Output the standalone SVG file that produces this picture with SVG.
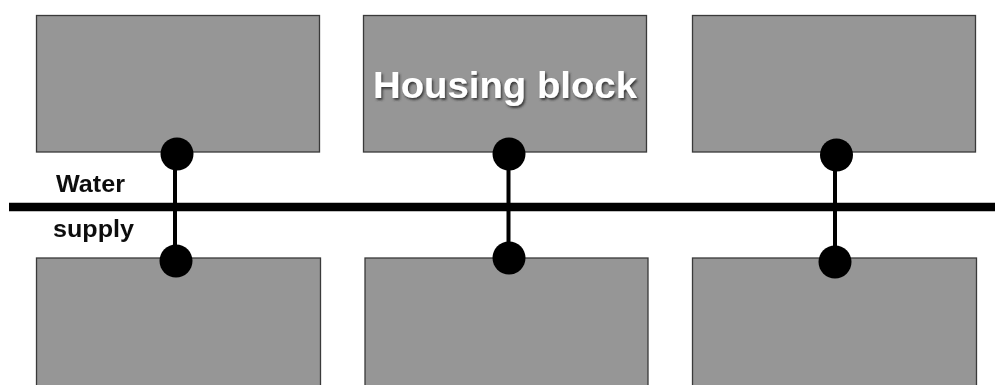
<svg xmlns="http://www.w3.org/2000/svg" width="995" height="385" viewBox="0 0 995 385">
<defs>
<filter id="shadow" x="-5%" y="-20%" width="110%" height="140%"><feGaussianBlur stdDeviation="0.4" result="s"/><feDropShadow in="s" dx="1.500" dy="2" stdDeviation="0.800" flood-color="#333" flood-opacity="0.9"/></filter>
<filter id="soft" x="-5%" y="-20%" width="110%" height="140%"><feGaussianBlur stdDeviation="0.350"/></filter>
</defs>
<style>
.b{fill:#969696;stroke:#3a3a3a;stroke-width:1.300}
.d{fill:#000}
.c{stroke:#000;fill:none}
.l{font-family:"Liberation Sans",Arial,sans-serif;font-weight:bold;font-size:23px;fill:#111;filter:url(#soft)}
.h{font-family:"Liberation Sans",Arial,sans-serif;font-weight:bold;font-size:36px;fill:#fff;filter:url(#shadow)}
</style>
<rect width="995" height="385" fill="#fff"/>
<g id="block-top-left"><rect class="b" x="36.500" y="15.500" width="283" height="136.500"/></g>
<g id="block-top-middle"><rect class="b" x="363.500" y="15.500" width="283" height="136.500"/>
<text class="h" x="373" y="98" textLength="264" lengthAdjust="spacingAndGlyphs">Housing block</text></g>
<g id="block-top-right"><rect class="b" x="692.500" y="15.500" width="283" height="136.500"/></g>
<g id="block-bottom-left"><rect class="b" x="36.500" y="258" width="284" height="128"/></g>
<g id="block-bottom-middle"><rect class="b" x="365" y="258" width="283" height="128"/></g>
<g id="block-bottom-right"><rect class="b" x="692.500" y="258" width="284" height="128"/></g>
<g id="connectors">
<path class="c" stroke-width="8.500" d="M9 207H995"/>
<path class="c" stroke-width="4" d="M175 154V261M508.500 154V258M835 155V262"/>
</g>
<g id="joints">
<circle class="d" cx="177" cy="154" r="16.500"/><circle class="d" cx="509" cy="154" r="16.500"/><circle class="d" cx="836.500" cy="155" r="16.500"/>
<circle class="d" cx="176" cy="261" r="16.500"/><circle class="d" cx="509" cy="258" r="16.500"/><circle class="d" cx="835" cy="262" r="16.500"/>
</g>
<g id="label-water"><text class="l" x="56" y="191.500" textLength="69" lengthAdjust="spacingAndGlyphs">Water</text></g>
<g id="label-supply"><text class="l" x="53" y="237" textLength="81" lengthAdjust="spacingAndGlyphs">supply</text></g>
</svg>
